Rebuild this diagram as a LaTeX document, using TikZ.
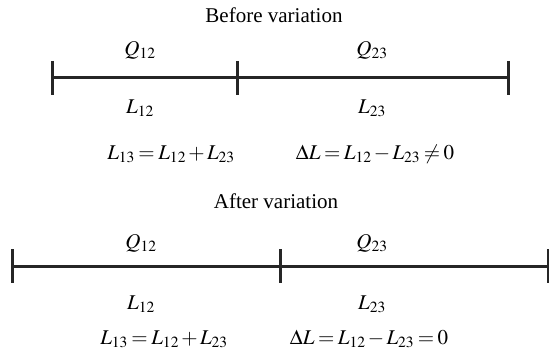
\documentclass[tikz,border=0pt]{standalone}
\usepackage{mathptmx}
\usepackage[no-math]{fontspec}
\setmainfont{Liberation Serif}
\usepackage{tikz}
\usetikzlibrary{positioning}

\begin{document}
\begin{tikzpicture}[
    x=1pt, y=-1pt,
    lbl/.style={font=\fontsize{21}{25}\selectfont, inner sep=0pt},
    eqn/.style={lbl, execute at begin node={\medmuskip=2mu\thickmuskip=3mu}},
    bar/.style={line width=3pt, black!85},
    tick/.style={line width=3pt, black!85}
]
    \useasboundingbox (0,0) rectangle (549,350);

    % before variation
    \node[lbl] (ttlB) at (274,15) {Before variation};
    \coordinate (b1) at (52,78);
    \coordinate (b2) at (237,78);
    \coordinate (b3) at (508,78);
    \draw[bar] (b1) -- (b2) -- (b3);
    \foreach \p in {b1,b2,b3}
        \draw[tick] ([yshift=17pt]\p) -- ([yshift=-17pt]\p);
    \node[lbl] (qB1) at (140,50) {$Q_{12}$};
    \node[lbl] (qB2) at (372,50) {$Q_{23}$};
    \node[lbl] (lB1) at (140,108) {$L_{12}$};
    \node[lbl] (lB2) at (372,108) {$L_{23}$};
    \node[eqn] (eqB1) at (171,154) {$L_{13}=L_{12}+L_{23}$};
    \node[eqn] (eqB2) at (375,154) {$\Delta L=L_{12}-L_{23}\neq 0$};

    % after variation
    \node[lbl] (ttlA) at (276,201) {After variation};
    \coordinate (a1) at (12,266);
    \coordinate (a2) at (280,266);
    \coordinate (a3) at (548,266);
    \draw[bar] (a1) -- (a2) -- (a3);
    \foreach \p in {a1,a2,a3}
        \draw[tick] ([yshift=17pt]\p) -- ([yshift=-17pt]\p);
    \node[lbl] (qA1) at (141,243) {$Q_{12}$};
    \node[lbl] (qA2) at (372,243) {$Q_{23}$};
    \node[lbl] (lA1) at (141,304) {$L_{12}$};
    \node[lbl] (lA2) at (372,304) {$L_{23}$};
    \node[eqn] (eqA1) at (164,339) {$L_{13}=L_{12}+L_{23}$};
    \node[eqn] (eqA2) at (369,339) {$\Delta L=L_{12}-L_{23}=0$};
\end{tikzpicture}
\end{document}
